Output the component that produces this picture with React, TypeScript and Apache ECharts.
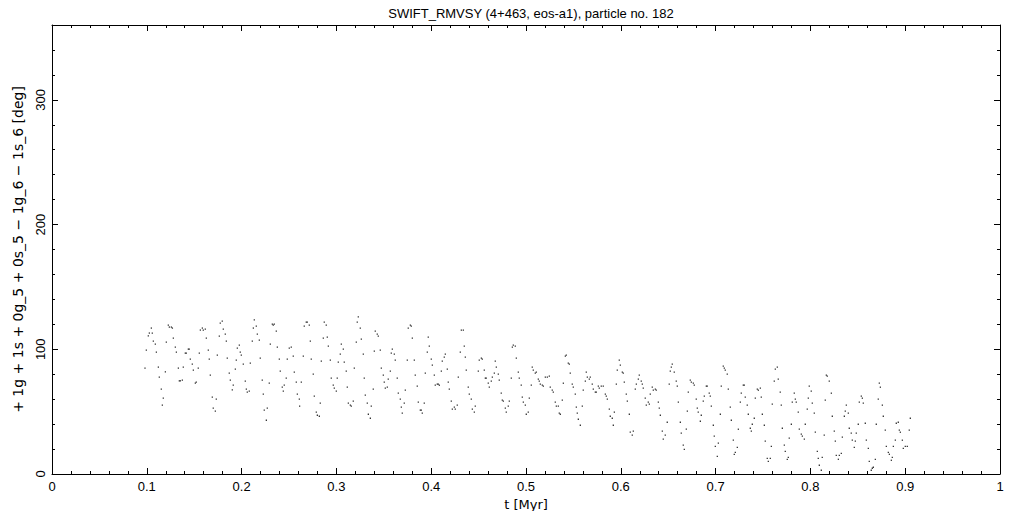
import React, { useEffect, useRef } from "react";
import * as echarts from "echarts";

const TITLE = "SWIFT_RMVSY (4+463, eos-a1), particle no. 182";
const X_NAME = "t [Myr]";
const Y_NAME = "+ 1g + 1s + 0g_5 + 0s_5 \u2212 1g_6 \u2212 1s_6 [deg]";

// [t (Myr), resonant angle (deg)]
const segA: [number, number][] = [
  [0.0981,84.9],[0.0995,99.3],[0.1016,110.8],[0.1027,113.0],[0.1048,117.0],[0.1058,113.0],[0.1069,106.6],[0.1090,104.2],[0.1101,97.7],[0.1122,85.7],[0.1132,77.7],[0.1153,68.0],[0.1164,55.2],[0.1174,60.8],[0.1196,81.9],[0.1206,105.8],[0.1227,119.4],[0.1238,117.8],[0.1259,117.8],[0.1270,117.0],[0.1280,109.0],[0.1301,101.8],[0.1312,97.7],[0.1333,84.9],[0.1343,74.7],[0.1354,74.7],[0.1375,75.3],[0.1385,85.7],[0.1406,96.9],[0.1417,96.9],[0.1438,100.1],[0.1448,100.1],[0.1459,92.1],[0.1480,88.1],[0.1491,83.3],[0.1512,72.8],[0.1522,73.6],[0.1543,84.9],[0.1554,96.9],[0.1565,115.4],[0.1586,117.0],[0.1596,115.4],[0.1617,116.2],[0.1628,109.0],[0.1649,99.3],[0.1659,92.1],[0.1670,79.3],[0.1691,61.6],[0.1701,52.8],[0.1723,50.4],[0.1733,60.0],[0.1744,95.3],[0.1765,110.6],[0.1775,121.0],[0.1796,122.6],[0.1807,116.2],[0.1828,112.2],[0.1839,106.6],[0.1849,92.9],[0.1870,80.9],[0.1881,75.3],[0.1902,67.5],[0.1912,71.2],[0.1934,84.1],[0.1944,91.3],[0.1955,101.0],[0.1976,103.4],[0.1986,97.7],[0.1997,95.3],[0.2018,88.1],[0.2039,74.5],[0.2050,68.0],[0.2060,65.6],[0.2081,66.4],[0.2092,88.9],[0.2113,106.6],[0.2124,117.0],[0.2134,123.5],[0.2155,118.6],[0.2166,112.2],[0.2187,107.4],[0.2197,92.9],[0.2218,75.3],[0.2229,64.0],[0.2239,51.2],[0.2261,43.1],[0.2271,52.8],[0.2292,72.8],[0.2303,104.2],[0.2324,120.2],[0.2334,119.4],[0.2345,120.2],[0.2366,114.6],[0.2377,101.8],[0.2398,92.1],[0.2408,82.5],[0.2429,69.6],[0.2440,66.4],[0.2450,71.2],[0.2471,76.9]
];

const segB: [number, number][] = [
  [0.2482,92.1],[0.2503,101.0],[0.2524,101.8],[0.2545,94.5],[0.2556,81.7],[0.2577,73.6],[0.2588,64.0],[0.2609,60.0],[0.2612,54.4],[0.2630,73.6],[0.2651,94.5],[0.2661,118.6],[0.2682,121.8],[0.2693,121.8],[0.2714,119.4],[0.2725,106.6],[0.2735,92.1],[0.2756,80.1],[0.2767,62.4],[0.2788,49.6],[0.2799,47.1],[0.2820,46.3],[0.2830,56.8],[0.2841,90.5],[0.2862,109.0],[0.2872,121.8],[0.2893,119.4],[0.2904,109.8],[0.2915,102.6],[0.2936,91.3],[0.2946,76.9],[0.2967,71.2],[0.2978,68.8],[0.2999,66.4],[0.3009,76.9],[0.3020,89.7],[0.3041,96.1],[0.3052,104.2],[0.3073,100.1],[0.3083,89.7],[0.3104,82.5],[0.3115,69.6],[0.3126,56.8],[0.3147,55.2],[0.3157,54.4],[0.3178,58.4],[0.3189,84.9],[0.3210,105.8],[0.3220,121.8],[0.3231,125.9],[0.3252,117.0],[0.3263,108.2],[0.3284,96.1],[0.3294,76.9],[0.3305,63.2],[0.3326,56.8],[0.3337,47.9],[0.3358,44.7],[0.3368,54.4],[0.3389,68.0],[0.3400,98.5],[0.3410,114.6],[0.3431,112.2],[0.3442,110.6],[0.3463,99.3],[0.3474,84.9],[0.3495,79.3],[0.3505,73.6],[0.3516,68.8],[0.3537,69.6],[0.3547,76.1],[0.3569,82.5],[0.3579,96.9],[0.3590,100.1],[0.3611,96.1],[0.3621,91.3],[0.3642,76.9],[0.3653,64.8],[0.3674,60.0],[0.3685,53.6],[0.3695,48.8],[0.3716,56.8],[0.3727,67.2],[0.3748,91.3],[0.3758,117.0],[0.3780,119.4],[0.3790,118.6],[0.3801,109.0],[0.3822,91.3],[0.3832,79.3],[0.3853,70.4],[0.3864,57.6],[0.3885,51.2],[0.3896,51.2],[0.3906,48.8],[0.3927,56.8],[0.3938,80.9],[0.3959,97.7],[0.3969,109.8],[0.3980,102.6],[0.4001,92.1],[0.4012,87.3],[0.4033,79.3],[0.4043,71.2],[0.4064,72.0],[0.4075,72.0],[0.4086,71.2],[0.4107,82.5],[0.4117,90.5],[0.4138,93.7],[0.4149,96.1],[0.4170,84.1],[0.4180,73.6],[0.4191,68.0],[0.4212,58.4],[0.4223,52.0],[0.4244,53.6],[0.4254,52.0],[0.4275,55.2],[0.4286,77.7],[0.4307,97.7],[0.4318,115.4],[0.4339,115.4],[0.4349,102.6],[0.4360,93.7],[0.4370,83.3],[0.4391,69.6],[0.4402,64.0],[0.4423,60.0],[0.4434,52.0],[0.4455,49.6],[0.4465,54.4],[0.4497,82.5],[0.4507,91.3]
];

const segC: [number, number][] = [
  [0.4529,92.9],[0.4539,92.1],[0.4560,83.3],[0.4571,76.9],[0.4581,76.9],[0.4602,72.8],[0.4613,69.6],[0.4634,74.5],[0.4645,77.7],[0.4666,80.9],[0.4676,90.5],[0.4687,85.7],[0.4708,80.1],[0.4718,75.3],[0.4739,64.8],[0.4750,59.2],[0.4761,58.4],[0.4782,52.8],[0.4792,49.6],[0.4813,54.4],[0.4824,58.4],[0.4845,76.9],[0.4856,101.8],[0.4866,103.4],[0.4887,102.6],[0.4898,92.9],[0.4919,81.7],[0.4929,76.9],[0.4950,71.2],[0.4961,61.6],[0.4972,57.6],[0.4993,55.2],[0.5003,47.9],[0.5024,49.6],[0.5035,60.8],[0.5056,71.2],[0.5066,85.7],[0.5077,83.3],[0.5098,80.9],[0.5109,81.7],[0.5130,76.1],[0.5140,74.5],[0.5151,72.0],[0.5172,71.2],[0.5183,70.4],[0.5204,77.7],[0.5225,77.7],[0.5246,78.5],[0.5256,69.6],[0.5277,67.2],[0.5288,65.6],[0.5309,57.6],[0.5320,54.4],[0.5341,54.4],[0.5351,48.8],[0.5362,47.9],[0.5383,59.2],[0.5394,72.8],[0.5415,94.5],[0.5425,95.3],[0.5446,88.9],[0.5457,88.1],[0.5467,80.9],[0.5488,72.0],[0.5499,69.6],[0.5520,64.0],[0.5531,53.6],[0.5541,48.8],[0.5552,43.9],[0.5573,39.1],[0.5594,54.4],[0.5604,67.2],[0.5626,74.5],[0.5636,81.7],[0.5647,77.7],[0.5668,76.1],[0.5678,77.7],[0.5699,72.0],[0.5710,68.0],[0.5731,65.6],[0.5742,65.6],[0.5763,70.4],[0.5773,68.8],[0.5794,70.4],[0.5815,70.4],[0.5837,64.0],[0.5847,62.4],[0.5858,60.0],[0.5879,52.0],[0.5889,46.3],[0.5910,44.7],[0.5921,39.1],[0.5932,49.6],[0.5953,72.0],[0.5963,83.3],[0.5984,91.3],[0.5995,87.3],[0.6016,81.7],[0.6026,80.9],[0.6037,73.6],[0.6058,64.0],[0.6069,58.4],[0.6090,47.9],[0.6100,33.5],[0.6121,31.1],[0.6132,34.3],[0.6153,68.0],[0.6164,72.0],[0.6185,76.1],[0.6195,79.3],[0.6216,74.5],[0.6227,72.0],[0.6237,68.8],[0.6258,60.8],[0.6269,55.2],[0.6290,57.6],[0.6301,56.0],[0.6311,64.0],[0.6332,69.6],[0.6343,67.2],[0.6364,68.0],[0.6374,67.2],[0.6396,57.6],[0.6406,52.8],[0.6417,47.1],[0.6438,34.3],[0.6448,27.9],[0.6469,31.1],[0.6490,41.5],[0.6511,72.0]
];

const segD: [number, number][] = [
  [0.6522,82.5],[0.6533,85.7],[0.6543,88.1],[0.6564,81.7],[0.6585,74.5],[0.6596,70.4],[0.6607,57.6],[0.6628,41.5],[0.6638,32.7],[0.6659,23.1],[0.6670,19.8],[0.6691,35.9],[0.6702,50.4],[0.6712,65.6],[0.6733,75.3],[0.6744,73.6],[0.6765,72.8],[0.6775,71.2],[0.6796,60.0],[0.6807,52.8],[0.6817,49.6],[0.6839,42.3],[0.6849,47.1],[0.6870,58.4],[0.6881,62.4],[0.6902,70.4],[0.6912,70.4],[0.6933,64.8],[0.6944,62.4],[0.6955,54.4],[0.6976,39.1],[0.6986,30.3],[0.6997,22.2],[0.7018,14.2],[0.7029,24.7],[0.7050,47.9],[0.7060,70.4],[0.7081,86.5],[0.7092,84.9],[0.7102,83.3],[0.7123,80.1],[0.7134,68.0],[0.7155,53.6],[0.7166,43.1],[0.7187,27.1],[0.7197,15.8],[0.7208,17.4],[0.7229,21.4],[0.7240,35.9],[0.7261,57.6],[0.7271,64.8],[0.7292,71.2],[0.7303,71.2],[0.7313,61.6],[0.7334,55.2],[0.7345,47.9],[0.7366,36.7],[0.7377,34.3],[0.7387,39.9],[0.7408,44.7],[0.7419,60.8],[0.7440,68.0],[0.7451,67.2],[0.7472,68.8],[0.7482,61.6],[0.7493,47.9],[0.7514,39.1],[0.7524,26.3],[0.7545,12.6],[0.7556,10.2],[0.7577,12.6],[0.7588,22.2],[0.7598,56.0],[0.7619,74.5],[0.7630,84.1],[0.7651,85.7],[0.7661,76.1],[0.7682,65.6],[0.7693,55.2],[0.7704,36.7],[0.7725,23.1],[0.7735,18.2],[0.7756,11.8],[0.7767,13.4],[0.7777,28.7],[0.7799,39.9],[0.7809,57.6],[0.7830,64.8],[0.7841,60.0],[0.7851,57.6],[0.7872,49.6],[0.7883,35.9],[0.7904,31.9],[0.7915,30.3],[0.7936,27.9],[0.7946,39.9],[0.7967,52.0],[0.7978,60.8],[0.7988,70.4],[0.8009,66.4],[0.8020,56.8],[0.8041,48.8],[0.8052,33.5],[0.8073,18.2],[0.8083,12.6],[0.8094,7.0],[0.8115,3.0],[0.8125,13.4],[0.8146,31.1],[0.8157,59.2],[0.8168,79.3],[0.8178,78.5],[0.8199,74.5],[0.8221,64.8],[0.8231,46.3],[0.8252,34.3],[0.8263,26.3],[0.8273,15.0],[0.8295,11.8],[0.8305,15.0],[0.8326,16.6],[0.8337,29.5],[0.8358,46.3],[0.8368,50.4],[0.8379,55.2],[0.8400,48.8],[0.8410,36.7],[0.8431,32.7],[0.8442,27.1],[0.8463,21.4],[0.8474,26.3],[0.8484,32.7],[0.8505,39.9],[0.8516,57.6],[0.8537,62.4],[0.8548,60.8],[0.8558,56.8],[0.8579,40.7],[0.8590,27.1],[0.8611,20.6],[0.8621,10.2],[0.8642,3.0],[0.8653,4.6],[0.8664,5.4],[0.8685,11.8],[0.8695,39.9],[0.8716,60.0],[0.8727,72.8],[0.8738,69.6],[0.8759,55.2],[0.8769,46.3],[0.8790,35.1],[0.8801,22.2],[0.8822,17.4],[0.8833,15.8],[0.8854,11.0],[0.8864,13.4],[0.8875,22.2],[0.8896,27.1],[0.8906,40.7],[0.8927,41.5],[0.8938,35.1],[0.8949,33.5],[0.8970,27.1],[0.8980,20.6],[0.9001,22.2],[0.9022,22.2],[0.9043,35.1],[0.9054,44.7]
];

const X_MIN = 0, X_MAX = 1, X_STEP = 0.1;
const Y_MIN = 0, Y_MAX = 360, Y_STEP = 100;

const FONT = "Liberation Sans";
const NAME_FONT = "DejaVu Sans";

export default function App() {
  const ref = useRef<HTMLDivElement>(null);
  useEffect(() => {
    if (!ref.current) return;
    document.body.style.margin = "0";
    document.body.style.overflow = "hidden";
    const chart = echarts.init(ref.current, null, { renderer: "svg", width: 1021, height: 511 });
    const black = "#000";
    const lineStyle = { color: black, width: 1 };
    const baseX = {
      type: "value" as const,
      min: X_MIN, max: X_MAX, interval: X_STEP,
      axisLine: { show: true, onZero: false, lineStyle },
      axisTick: { show: true, inside: true, length: 6, lineStyle },
      minorTick: { show: true, splitNumber: 5, length: 3, lineStyle },
      splitLine: { show: false },
    };
    const baseY = {
      type: "value" as const,
      min: Y_MIN, max: Y_MAX, interval: Y_STEP,
      axisLine: { show: true, onZero: false, lineStyle },
      axisTick: { show: true, inside: true, length: 6, lineStyle },
      minorTick: { show: true, splitNumber: 5, length: 3, lineStyle },
      splitLine: { show: false },
    };
    chart.setOption({
      animation: false,
      backgroundColor: "#fff",
      textStyle: { fontFamily: FONT },
      title: {
        text: TITLE,
        left: 526,
        top: 2,
        textAlign: "center",
        textStyle: { fontSize: 13, fontWeight: "normal", color: black, fontFamily: FONT },
      },
      grid: { left: 52, right: 21, top: 25, bottom: 37, containLabel: false, outerBoundsMode: "none" },
      xAxis: [
        {
          ...baseX,
          position: "bottom",
          axisLabel: { show: true, color: black, fontSize: 13, margin: 6, fontFamily: FONT },
          name: X_NAME,
          nameLocation: "middle",
          nameGap: 21,
          nameTextStyle: { color: black, fontSize: 13, lineHeight: 14, fontFamily: NAME_FONT },
        },
        {
          ...baseX,
          position: "top",
          axisLabel: { show: false },
        },
      ],
      yAxis: [
        {
          ...baseY,
          position: "left",
          axisLabel: { show: true, color: black, fontSize: 13, margin: 5, rotate: 90, showMaxLabel: false, fontFamily: FONT },
          name: Y_NAME,
          nameLocation: "middle",
          nameGap: 27,
          nameRotate: 90,
          nameTextStyle: { color: black, fontSize: 14, fontFamily: NAME_FONT },
        },
        {
          ...baseY,
          position: "right",
          axisLabel: { show: false },
        },
      ],
      series: [
        {
          type: "scatter",
          xAxisIndex: 0,
          yAxisIndex: 0,
          symbol: "rect",
          symbolSize: 1.3,
          silent: true,
          itemStyle: { color: black },
          data: [...segA, ...segB, ...segC, ...segD],
        },
      ],
    });
    return () => chart.dispose();
  }, []);
  return <div ref={ref} style={{ width: 1021, height: 511, background: "#fff" }} />;
}
